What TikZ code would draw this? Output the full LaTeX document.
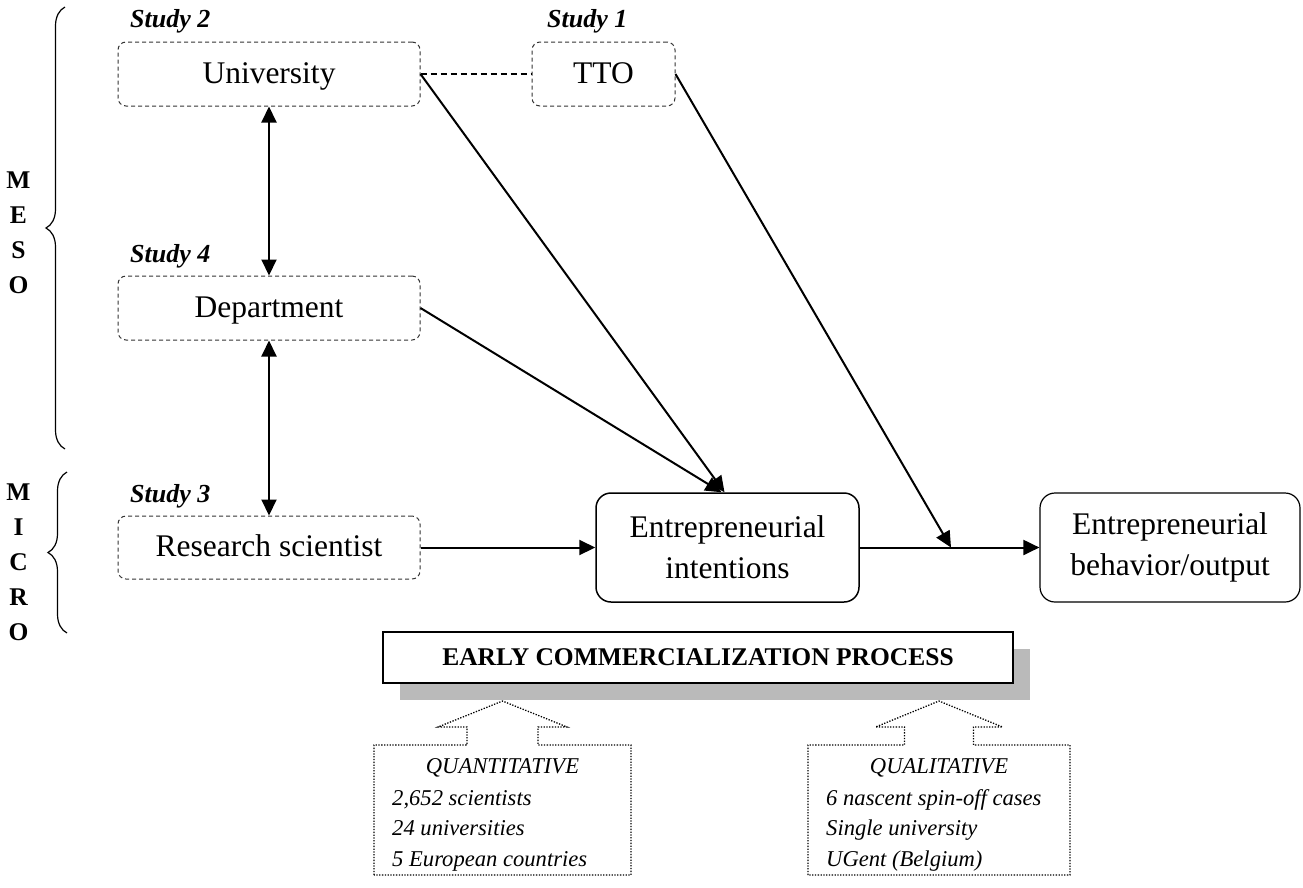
\documentclass[tikz,border=0pt]{standalone}
\usepackage{fontspec}
\setmainfont{Liberation Serif}
\usetikzlibrary{arrows.meta,decorations.pathreplacing}
\begin{document}
\begin{tikzpicture}[x=1pt,y=-1pt,
  dbox/.style={draw=black!80, line width=1pt, dash pattern=on 4pt off 3pt, rounded corners=8pt,
    minimum width=302pt, minimum height=64pt, inner sep=0pt, text height=24pt, text depth=6pt,
    font=\fontsize{31.5}{38}\selectfont},
  sbox/.style={draw, line width=1.5pt, rounded corners=15pt, minimum height=109pt, inner sep=0pt,
    align=center, font=\fontsize{31.5}{41}\selectfont},
  study/.style={anchor=base west, inner sep=0pt, font=\fontsize{26}{30}\selectfont\bfseries\itshape},
  lvl/.style={anchor=base, inner sep=0pt, font=\fontsize{25.5}{30}\selectfont\bfseries},
  tip/.style={Triangle[length=16pt,width=15pt]},
  arr/.style={line width=2pt, -{Triangle[length=16pt,width=15pt]}},
  darr/.style={line width=2pt, {Triangle[length=16pt,width=15pt]}-{Triangle[length=16pt,width=15pt]}},
  dots/.style={line width=1.3pt, dash pattern=on 1.3pt off 1.5pt},
  itx/.style={inner sep=0pt, font=\fontsize{22.6}{28}\selectfont\itshape},
  brc/.style={line width=1.2pt, decorate, decoration={brace, amplitude=19pt}}
]
\useasboundingbox (0,0) rectangle (1303,887);

% level labels
\foreach \t [count=\i] in {M,E,S,O}
  \node[lvl] (meso\i) at (18.5,{188+35.2*(\i-1)}) {\t};
\foreach \t [count=\i] in {M,I,C,R,O}
  \node[lvl] (micro\i) at (18.5,{500+35*(\i-1)}) {\t};
\draw[brc] (65,449) -- (65,7);
\draw[brc] (67,633) -- (67,472);

% study labels
\node[study] (s2) at (130,27) {Study 2};
\node[study] (s1) at (547,27) {Study 1};
\node[study] (s4) at (130,262) {Study 4};
\node[study] (s3) at (130,502) {Study 3};

% boxes
\node[dbox] (univ) at (269,74) {University};
\node[dbox, minimum width=143pt] (tto) at (603.5,74) {TTO};
\node[dbox] (dept) at (269,308) {Department};
\node[dbox, minimum height=63pt] (res) at (269,547.5) {Research scientist};
\node[sbox, minimum width=263pt] (intent) at (727.5,547.5) {Entrepreneurial\\intentions};
\node[sbox, minimum width=260pt, line width=1.2pt] (behav) at (1170,547.5) {Entrepreneurial\\behavior/output};

% connectors
\draw[line width=1.2pt, dash pattern=on 6pt off 4pt] (univ.east) -- (tto.west);
\draw[darr] (univ.south) -- (dept.north);
\draw[darr] (dept.south) -- (res.north);
\draw[arr] (univ.east) -- ([xshift=-3pt]intent.north);
\draw[arr] (dept.east) -- ([xshift=-6pt]intent.north);
\draw[arr] (res.east) -- (intent.west);
\draw[arr] (intent.east) -- (behav.west);
\coordinate (mod) at (951,547.5);
\draw[arr] (tto.east) -- (mod);

% early commercialization process
\fill[black!27] (400,649) rectangle (1030,700);
\node[draw, fill=white, line width=2.5pt, minimum width=630pt, minimum height=51pt, inner sep=0pt,
  font=\fontsize{25.5}{30}\selectfont\bfseries] (ecp) at (698,657.5) {EARLY COMMERCIALIZATION PROCESS};

% quantitative block
\draw[dots] (374,875) -- (374,745) -- (467,745) -- (467,727) -- (438,727) -- (502.5,701)
  -- (567,727) -- (538,727) -- (538,745) -- (631,745) -- (631,875) -- cycle;
\node[itx, anchor=base] (qn) at (502.5,773) {QUANTITATIVE};
\node[itx, anchor=base west] (qn1) at (392,805) {2,652 scientists};
\node[itx, anchor=base west] (qn2) at (392,835) {24 universities};
\node[itx, anchor=base west] (qn3) at (392,866) {5 European countries};

% qualitative block
\draw[dots] (808,875) -- (808,745) -- (904.5,745) -- (904.5,727) -- (875.5,727) -- (939,701)
  -- (1002.5,727) -- (973.5,727) -- (973.5,745) -- (1070,745) -- (1070,875) -- cycle;
\node[itx, anchor=base] (ql) at (939,773) {QUALITATIVE};
\node[itx, anchor=base west] (ql1) at (826,805) {6 nascent spin-off cases};
\node[itx, anchor=base west] (ql2) at (826,835) {Single university};
\node[itx, anchor=base west] (ql3) at (826,866) {UGent (Belgium)};
\end{tikzpicture}
\end{document}
